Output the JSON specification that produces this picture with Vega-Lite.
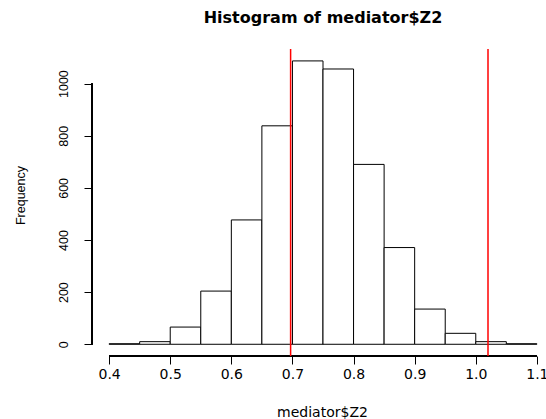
{
  "$schema": "https://vega.github.io/schema/vega-lite/v6.json",
  "autosize": "none",
  "width": 462,
  "height": 307,
  "padding": {"left": 92, "top": 49, "right": 0, "bottom": 63},
  "background": "white",
  "config": {"view": {"stroke": null}},
  "title": {
    "text": "Histogram of mediator$Z2",
    "font": "DejaVu Sans",
    "fontSize": 16,
    "fontWeight": "bold",
    "color": "black",
    "anchor": "middle",
    "offset": 22
  },
  "data": {
    "values": [
      {"lo": 0.40, "hi": 0.45, "count": 2},
      {"lo": 0.45, "hi": 0.50, "count": 10},
      {"lo": 0.50, "hi": 0.55, "count": 66},
      {"lo": 0.55, "hi": 0.60, "count": 204},
      {"lo": 0.60, "hi": 0.65, "count": 477},
      {"lo": 0.65, "hi": 0.70, "count": 838},
      {"lo": 0.70, "hi": 0.75, "count": 1087},
      {"lo": 0.75, "hi": 0.80, "count": 1056},
      {"lo": 0.80, "hi": 0.85, "count": 690},
      {"lo": 0.85, "hi": 0.90, "count": 371},
      {"lo": 0.90, "hi": 0.95, "count": 135},
      {"lo": 0.95, "hi": 1.00, "count": 42},
      {"lo": 1.00, "hi": 1.05, "count": 10},
      {"lo": 1.05, "hi": 1.10, "count": 2}
    ]
  },
  "layer": [
    {
      "mark": {"type": "bar", "fill": "white", "stroke": "black", "strokeWidth": 1, "clip": false},
      "encoding": {
        "x": {
          "field": "lo", "type": "quantitative",
          "scale": {"domain": [0.372, 1.128], "nice": false, "zero": false},
          "axis": {
            "values": [0.4, 0.5, 0.6, 0.7, 0.8, 0.9, 1.0, 1.1],
            "format": ".1f",
            "domain": false,
            "grid": false,
            "tickSize": 8,
            "tickColor": "black",
            "labelFont": "DejaVu Sans",
            "labelFontSize": 14,
            "labelColor": "black",
            "labelPadding": 3,
            "labelFlush": false,
            "title": "mediator$Z2",
            "titleFont": "DejaVu Sans",
            "titleFontSize": 14,
            "titleFontWeight": "normal",
            "titleColor": "black",
            "titleX": 230,
            "titleY": 56,
            "titleAlign": "center",
            "titleBaseline": "middle"
          }
        },
        "x2": {"field": "hi"},
        "y": {
          "field": "count", "type": "quantitative",
          "scale": {"domain": [-45, 1132.7], "nice": false, "zero": false},
          "axis": {
            "values": [0, 200, 400, 600, 800, 1000],
            "format": "d",
            "domain": false,
            "grid": false,
            "tickSize": 8,
            "tickColor": "black",
            "labelAngle": -90,
            "labelAlign": "center",
            "labelBaseline": "bottom",
            "labelFont": "Liberation Sans",
            "labelFontSize": 12.5,
            "labelColor": "black",
            "labelPadding": 14,
            "labelFlush": false,
            "title": "Frequency",
            "titleFont": "Liberation Sans",
            "titleFontSize": 12.5,
            "titleFontWeight": "normal",
            "titleColor": "black",
            "titleAngle": -90,
            "titleX": -72,
            "titleY": 146,
            "titleAlign": "center",
            "titleBaseline": "middle"
          }
        },
        "y2": {"datum": 0}
      }
    },
    {
      "mark": {"type": "rule", "color": "black", "strokeWidth": 1},
      "encoding": {
        "x": {"datum": 0.4, "type": "quantitative"},
        "x2": {"datum": 1.1},
        "y": {"datum": -45, "type": "quantitative"}
      }
    },
    {
      "mark": {"type": "rule", "color": "black", "strokeWidth": 1},
      "encoding": {
        "x": {"datum": 0.372, "type": "quantitative"},
        "y": {"datum": 0, "type": "quantitative"},
        "y2": {"datum": 1000}
      }
    },
    {
      "data": {"values": [{"v": 0.697}, {"v": 1.02}]},
      "mark": {"type": "rule", "color": "#ff0000", "strokeWidth": 1.5},
      "encoding": {
        "x": {"field": "v", "type": "quantitative"}
      }
    }
  ]
}
